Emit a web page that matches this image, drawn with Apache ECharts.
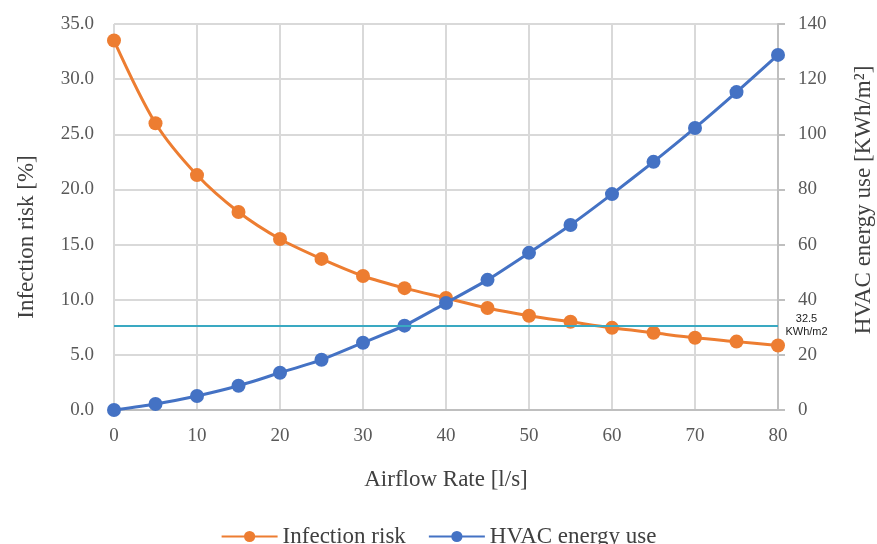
<!DOCTYPE html>
<html>
<head>
<meta charset="utf-8">
<script src="https://cdn.jsdelivr.net/npm/echarts@6/dist/echarts.min.js"></script>
<style>
html,body{margin:0;padding:0;background:#fff;}
#c{width:877px;height:544px;}
</style>
</head>
<body>
<div id="c"></div>
<script>
const airflow = [0, 5, 10, 15, 20, 25, 30, 35, 40, 45, 50, 55, 60, 65, 70, 75, 80];
const infectionRisk = [33.5, 26.0, 21.3, 17.95, 15.5, 13.7, 12.15, 11.05, 10.15, 9.25, 8.55, 8.0, 7.45, 7.0, 6.55, 6.2, 5.85];
const hvacEnergy = [0, 2.2, 5.1, 8.8, 13.5, 18.2, 24.4, 30.6, 38.8, 47.2, 57.0, 67.1, 78.3, 90.0, 102.3, 115.3, 128.8];
const thresholdLeftValue = 7.67;
const thresholdLabel = '32.5\nKWh/m2';
const seriesNames = ['Infection risk', 'HVAC energy use'];

const serif = '"Liberation Serif", "DejaVu Serif", serif';
const chart = echarts.init(document.getElementById('c'));
chart.setOption({
  animation: false,
  backgroundColor: '#fff',
  grid: { left: 114, right: 99, top: 24, bottom: 134, containLabel: false, outerBoundsMode: 'none' },
  legend: {
    data: seriesNames,
    top: 520,
    left: 'center',
    itemWidth: 56,
    itemHeight: 14,
    itemGap: 22,
    textStyle: { fontFamily: serif, fontSize: 23, color: '#404040' }
  },
  xAxis: {
    type: 'value',
    min: 0, max: 80, interval: 10,
    name: 'Airflow Rate [l/s]',
    nameLocation: 'middle',
    nameGap: 58,
    nameTextStyle: { fontFamily: serif, fontSize: 23, color: '#404040' },
    axisLine: { show: true, lineStyle: { color: '#bfbfbf', width: 2 } },
    axisTick: { show: false },
    axisLabel: { fontFamily: serif, fontSize: 19, color: '#595959', margin: 17 },
    splitLine: { show: true, lineStyle: { color: '#d9d9d9', width: 2 } }
  },
  yAxis: [
    {
      type: 'value',
      min: 0, max: 35, interval: 5,
      name: 'Infection risk [%]',
      nameLocation: 'middle',
      nameGap: 76,
      nameTextStyle: { fontFamily: serif, fontSize: 23, color: '#404040', padding: [0, 40, 0, 0] },
      axisLine: { show: false },
      axisTick: { show: false },
      axisLabel: { fontFamily: serif, fontSize: 19, color: '#595959', margin: 20, formatter: v => v.toFixed(1) },
      splitLine: { show: true, lineStyle: { color: '#d9d9d9', width: 2 } }
    },
    {
      type: 'value',
      min: 0, max: 140, interval: 20,
      position: 'right',
      name: 'HVAC energy use [KWh/m²]',
      nameLocation: 'middle',
      nameGap: 74,
      nameRotate: 90,
      nameTextStyle: { fontFamily: serif, fontSize: 23, color: '#404040', padding: [0, 0, 0, 34] },
      axisLine: { show: true, lineStyle: { color: '#bfbfbf', width: 2 } },
      axisTick: { show: true, length: 7, lineStyle: { color: '#bfbfbf', width: 2 } },
      axisLabel: { fontFamily: serif, fontSize: 19, color: '#595959', margin: 20 },
      splitLine: { show: false }
    }
  ],
  series: [
    {
      name: seriesNames[0],
      type: 'line',
      yAxisIndex: 0,
      smooth: 0.3,
      data: airflow.map((x, i) => [x, infectionRisk[i]]),
      symbol: 'circle',
      symbolSize: 14,
      itemStyle: { color: '#ED7D31' },
      lineStyle: { color: '#ED7D31', width: 3 },
      z: 3,
      markLine: {
        silent: true,
        symbol: 'none',
        lineStyle: { color: '#3aa9c2', width: 2, type: 'solid' },
        label: {
          show: true,
          position: 'end',
          distance: 10,
          formatter: thresholdLabel,
          fontFamily: '"Liberation Sans", Arial, sans-serif',
          fontSize: 11,
          lineHeight: 13,
          color: '#222',
          align: 'center',
          padding: [0, 0, 0, 37]
        },
        data: [{ yAxis: thresholdLeftValue }]
      }
    },
    {
      name: seriesNames[1],
      type: 'line',
      yAxisIndex: 1,
      smooth: 0.2,
      data: airflow.map((x, i) => [x, hvacEnergy[i]]),
      symbol: 'circle',
      symbolSize: 14,
      itemStyle: { color: '#4472C4' },
      lineStyle: { color: '#4472C4', width: 3 },
      z: 4
    }
  ]
});
</script>
</body>
</html>
